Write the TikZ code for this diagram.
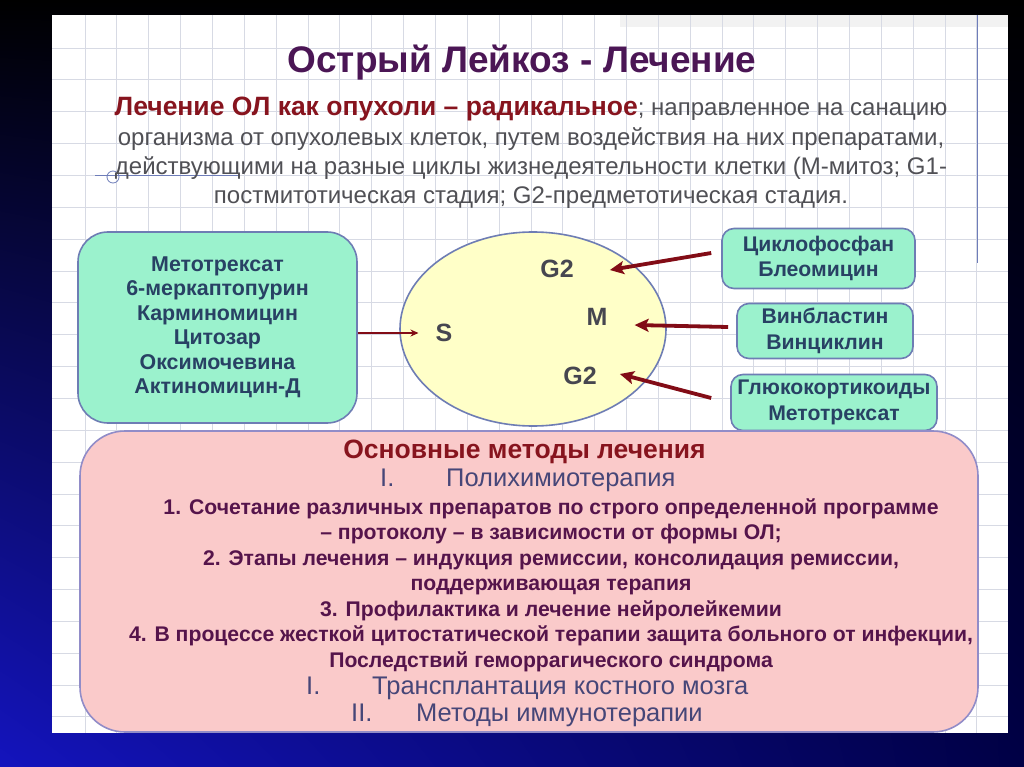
\documentclass[tikz,border=0pt]{standalone}
\usepackage{fontspec}
\setmainfont{Liberation Sans}
\usetikzlibrary{arrows.meta,calc,shapes.geometric,shadings}

\definecolor{titlec}{RGB}{75,22,85}
\definecolor{redc}{RGB}{135,20,30}
\definecolor{parac}{RGB}{80,80,85}
\definecolor{gridc}{RGB}{215,218,228}
\definecolor{greenf}{RGB}{155,242,205}
\definecolor{borderc}{RGB}{110,125,180}
\definecolor{boxtext}{RGB}{40,65,100}
\definecolor{ellf}{RGB}{255,255,200}
\definecolor{labc}{RGB}{70,70,80}
\definecolor{arrowc}{RGB}{130,12,22}
\definecolor{pinkf}{RGB}{250,202,202}
\definecolor{pinkb}{RGB}{145,140,200}
\definecolor{romanc}{RGB}{70,70,120}
\definecolor{itemc}{RGB}{85,20,75}
\definecolor{linkc}{RGB}{110,125,185}
\definecolor{bluebg}{RGB}{20,20,190}
\definecolor{navybg}{RGB}{0,0,70}

\begin{document}
\begin{tikzpicture}[x=1pt,y=-1pt,
  gridline/.style={draw=gridc, line width=0.8pt},
  greenbox/.style={draw=borderc, line width=1.6pt, fill=greenf, align=center,
    text=boxtext, font=\bfseries\fontsize{21.4}{24.5}\selectfont, inner sep=0pt},
  smallbox/.style={greenbox, rounded corners=12pt, font=\bfseries\fontsize{21.2}{25.5}\selectfont},
  cyclab/.style={text=labc, font=\bfseries\fontsize{25}{26}\selectfont, inner sep=1pt},
  thickarrow/.style={draw=arrowc, line width=3.8pt, -{Stealth[length=14pt,width=13pt,inset=3pt]}},
  thinarrow/.style={draw=arrowc, line width=1.8pt, -{Stealth[length=8pt,width=7pt]}},
  romanline/.style={text=romanc, font=\fontsize{25.5}{26}\selectfont, anchor=west,
    inner sep=0pt, text height=18pt, text depth=5pt},
  itemblock/.style={text=itemc, align=center, font=\bfseries\fontsize{21.2}{25.5}\selectfont}
]
\useasboundingbox (0,0) rectangle (1024,767);
\shade[upper left=black, upper right=black, lower left=bluebg, lower right=navybg]
  (0,0) rectangle (1024,767);

% slide
\fill[white] (52,15) rectangle (1008,733);
\fill[gray!10] (620,15) rectangle (1008,27);
\foreach \i in {0,...,28} \draw[gridline] ({85+31.85*\i},15) -- ({85+31.85*\i},733);
\foreach \j in {0,...,21} \draw[gridline] (52,{48+31.85*\j}) -- (1008,{48+31.85*\j});
\draw[linkc, line width=1pt] (977,15) -- (977,263);
\draw[linkc, line width=0.8pt] (95,175) -- (240,175);
\draw[linkc, line width=0.8pt] (113,177) circle (6);

% title and intro
\node[text=titlec, font=\bfseries\fontsize{37}{40}\selectfont] (title) at (522,63)
  {Острый Лейкоз - Лечение};
\node[text=parac, align=center, font=\fontsize{24}{29.3}\selectfont] (intro) at (531,153)
  {{\color{redc}\bfseries\fontsize{26.5}{29.3}\selectfont Лечение ОЛ как опухоли – радикальное}; направленное на санацию\\
   организма от опухолевых клеток, путем воздействия на них препаратами,\\
   действующими на разные циклы жизнедеятельности клетки (М-митоз; G1-\\
   постмитотическая стадия; G2-предметотическая стадия.};

% left drug box
\node[greenbox, rounded corners=30pt, minimum width=279pt, minimum height=191pt] (drugs)
  at (217.5,327.5)
  {Метотрексат\\6-меркаптопурин\\Карминомицин\\Цитозар\\Оксимочевина\\Актиномицин-Д};

% cell cycle ellipse
\node[ellipse, draw=borderc, line width=1.6pt, fill=ellf, minimum width=266pt,
  minimum height=194pt, inner sep=0pt] (cycle) at (533,329) {};
\node[cyclab] (g2a) at (557,269) {G2};
\node[cyclab] (m) at (597,317) {M};
\node[cyclab] (s) at (444,333) {S};
\node[cyclab] (g2b) at (580,376) {G2};

% right drug boxes
\node[smallbox, minimum width=193pt, minimum height=60pt] (cyclo) at (818.5,258.5)
  {Циклофосфан\\Блеомицин};
\node[smallbox, minimum width=176pt, minimum height=55pt] (vinb) at (825,331)
  {Винбластин\\Винциклин};
\node[smallbox, minimum width=206pt, minimum height=56pt] (gluco) at (834,402.5)
  {Глюкокортикоиды\\Метотрексат};

% arrows
\draw[thinarrow] (drugs.east |- s) -- ($(s.west)+(-16,0)$);
\draw[thickarrow] ($(cyclo.west)+(-10,-5.5)$) -- ($(g2a.east)+(35,1)$);
\draw[thickarrow] ($(vinb.west)+(-8,-4)$) -- ($(m.east)+(26,8)$);
\draw[thickarrow] ($(gluco.west)+(-19,-4.5)$) -- ($(g2b.east)+(22,-2)$);

% methods box
\node[draw=pinkb, line width=1.6pt, fill=pinkf, rounded corners=45pt,
  minimum width=898pt, minimum height=301pt, inner sep=0pt] (methods) at (529,581.5) {};
\node[text=redc, font=\bfseries\fontsize{26.5}{28}\selectfont] (mhead) at (524.5,452)
  {Основные методы лечения};
\node[romanline] (r1n) at (380,480) {I.};
\node[romanline] (r1) at (446,480) {Полихимиотерапия};
\node[itemblock] (items) at (551,585)
  {1. Сочетание различных препаратов по строго определенной программе\\
   – протоколу – в зависимости от формы ОЛ;\\
   2. Этапы лечения – индукция ремиссии, консолидация ремиссии,\\
   поддерживающая терапия\\
   3. Профилактика и лечение нейролейкемии\\
   4. В процессе жесткой цитостатической терапии защита больного от инфекции,\\
   Последствий геморрагического синдрома};
\node[romanline] (r2n) at (306,688) {I.};
\node[romanline] (r2) at (372,688) {Трансплантация костного мозга};
\node[romanline] (r3n) at (351,715) {II.};
\node[romanline] (r3) at (416,715) {Методы иммунотерапии};
\end{tikzpicture}
\end{document}
